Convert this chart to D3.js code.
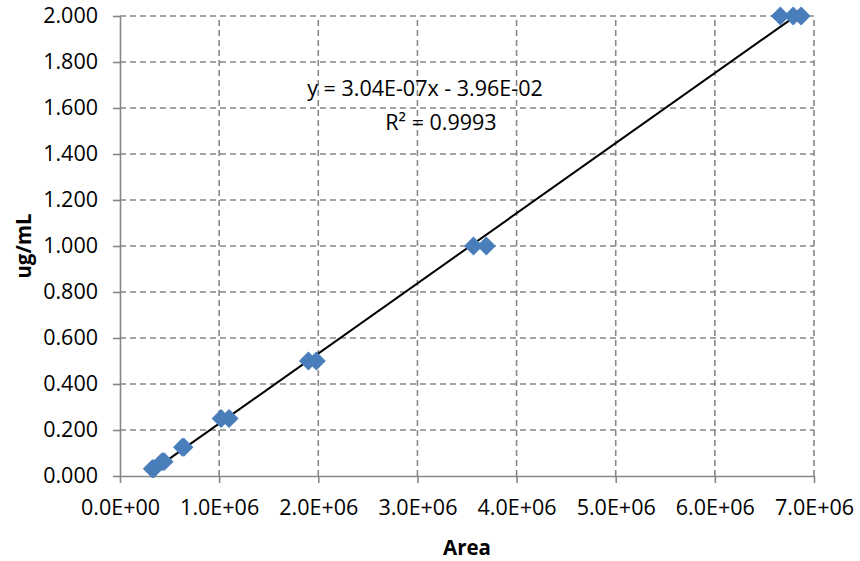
<!DOCTYPE html>
<html>
<head>
<meta charset="utf-8">
<script src="https://cdn.jsdelivr.net/npm/d3@7"></script>
<style>
  body { margin: 0; background: #fff; }
  text { font-family: "Open Sans", sans-serif; fill: #000; }
</style>
</head>
<body>
<div id="chart"></div>
<script>
// calibration points
const areas = [325000, 340000, 425000, 445000, 630000, 645000, 1020000, 1100000,
               1900000, 1980000, 3565000, 3695000, 6660000, 6790000, 6870000]
const concs = [0.03125, 0.03125, 0.0625, 0.0625, 0.125, 0.125, 0.25, 0.25,
               0.5, 0.5, 1, 1, 2, 2, 2]
const xTicks = [0, 1e6, 2e6, 3e6, 4e6, 5e6, 6e6, 7e6]
const yTicks = [0, 0.2, 0.4, 0.6, 0.8, 1.0, 1.2, 1.4, 1.6, 1.8, 2.0]
const eqLabel = "y = 3.04E-07x - 3.96E-02"
const r2Label = "R² = 0.9993"

const width = 860
const height = 561
const margin = { top: 16, right: 46, bottom: 85, left: 120 }
const gridColor = "#878787"

let svg = d3.select("#chart").append("svg")
    .attr("width", width)
    .attr("height", height)

let x = d3.scaleLinear().domain([0, 7e6]).range([margin.left, width - margin.right])
let y = d3.scaleLinear().domain([0, 2]).range([height - margin.bottom, margin.top])

let fmtX = function (d) {
    if (d === 0) return "0.0E+00"
    let e = Math.floor(Math.log10(d))
    return (d / Math.pow(10, e)).toFixed(1) + "E+" + String(e).padStart(2, "0")
}

// dashed grid
svg.append("g")
    .selectAll("line")
    .data(yTicks.slice(1))
    .enter().append("line")
    .attr("x1", x(0)).attr("x2", x(7e6))
    .attr("y1", d => y(d)).attr("y2", d => y(d))
    .style("stroke", gridColor)
    .style("stroke-width", 1.6)
    .style("stroke-dasharray", "6,4")

svg.append("g")
    .selectAll("line")
    .data(xTicks.slice(1))
    .enter().append("line")
    .attr("x1", d => x(d)).attr("x2", d => x(d))
    .attr("y1", y(0)).attr("y2", y(2))
    .style("stroke", gridColor)
    .style("stroke-width", 1.6)
    .style("stroke-dasharray", "6,4")

// axes
let xAxis = svg.append("g")
    .attr("transform", "translate(0," + y(0) + ")")
    .call(d3.axisBottom(x).tickValues(xTicks).tickFormat(fmtX).tickSize(7).tickPadding(17).tickSizeOuter(0))
let yAxis = svg.append("g")
    .attr("transform", "translate(" + x(0) + ",0)")
    .call(d3.axisLeft(y).tickValues(yTicks).tickFormat(d3.format(".3f")).tickSize(7).tickPadding(15).tickSizeOuter(0))

svg.selectAll(".domain, .tick line")
    .style("stroke", gridColor)
    .style("stroke-width", 1.6)
svg.selectAll(".tick text")
    .style("font-family", '"Open Sans", sans-serif')
    .style("font-size", "21.5px")
    .style("fill", "#000")

// linear trendline (least squares), spanning the data
let mx = d3.mean(areas), my = d3.mean(concs)
let sxy = d3.sum(areas, (a, i) => (a - mx) * (concs[i] - my))
let sxx = d3.sum(areas, a => (a - mx) * (a - mx))
let slope = sxy / sxx
let icpt = my - slope * mx
let ext = d3.extent(areas)

svg.append("line")
    .attr("x1", x(ext[0])).attr("y1", y(slope * ext[0] + icpt))
    .attr("x2", x(ext[1])).attr("y2", y(slope * ext[1] + icpt))
    .style("stroke", "#000")
    .style("stroke-width", 2)

// diamond markers
let diamond = d3.symbol().type(d3.symbolSquare).size(180)
svg.append("g")
    .selectAll("path")
    .data(areas)
    .enter().append("path")
    .attr("d", diamond)
    .attr("transform", (d, i) => "translate(" + x(d) + "," + y(concs[i]) + ") rotate(45)")
    .style("fill", "#4A7EBB")
    .style("stroke", "none")

// trendline label on top
svg.append("text")
    .attr("x", 425).attr("y", 96)
    .attr("text-anchor", "middle")
    .style("font-size", "21.5px")
    .text(eqLabel)
svg.append("text")
    .attr("x", 441).attr("y", 130)
    .attr("text-anchor", "middle")
    .style("font-size", "21.5px")
    .text(r2Label)

// axis titles
svg.append("text")
    .attr("x", (x(0) + x(7e6)) / 2).attr("y", 555)
    .attr("text-anchor", "middle")
    .style("font-size", "20.5px")
    .style("font-weight", "bold")
    .text("Area")
svg.append("text")
    .attr("transform", "translate(31," + (y(0) + y(2)) / 2 + ") rotate(-90)")
    .attr("text-anchor", "middle")
    .style("font-size", "20.5px")
    .style("font-weight", "bold")
    .text("ug/mL")
</script>
</body>
</html>
